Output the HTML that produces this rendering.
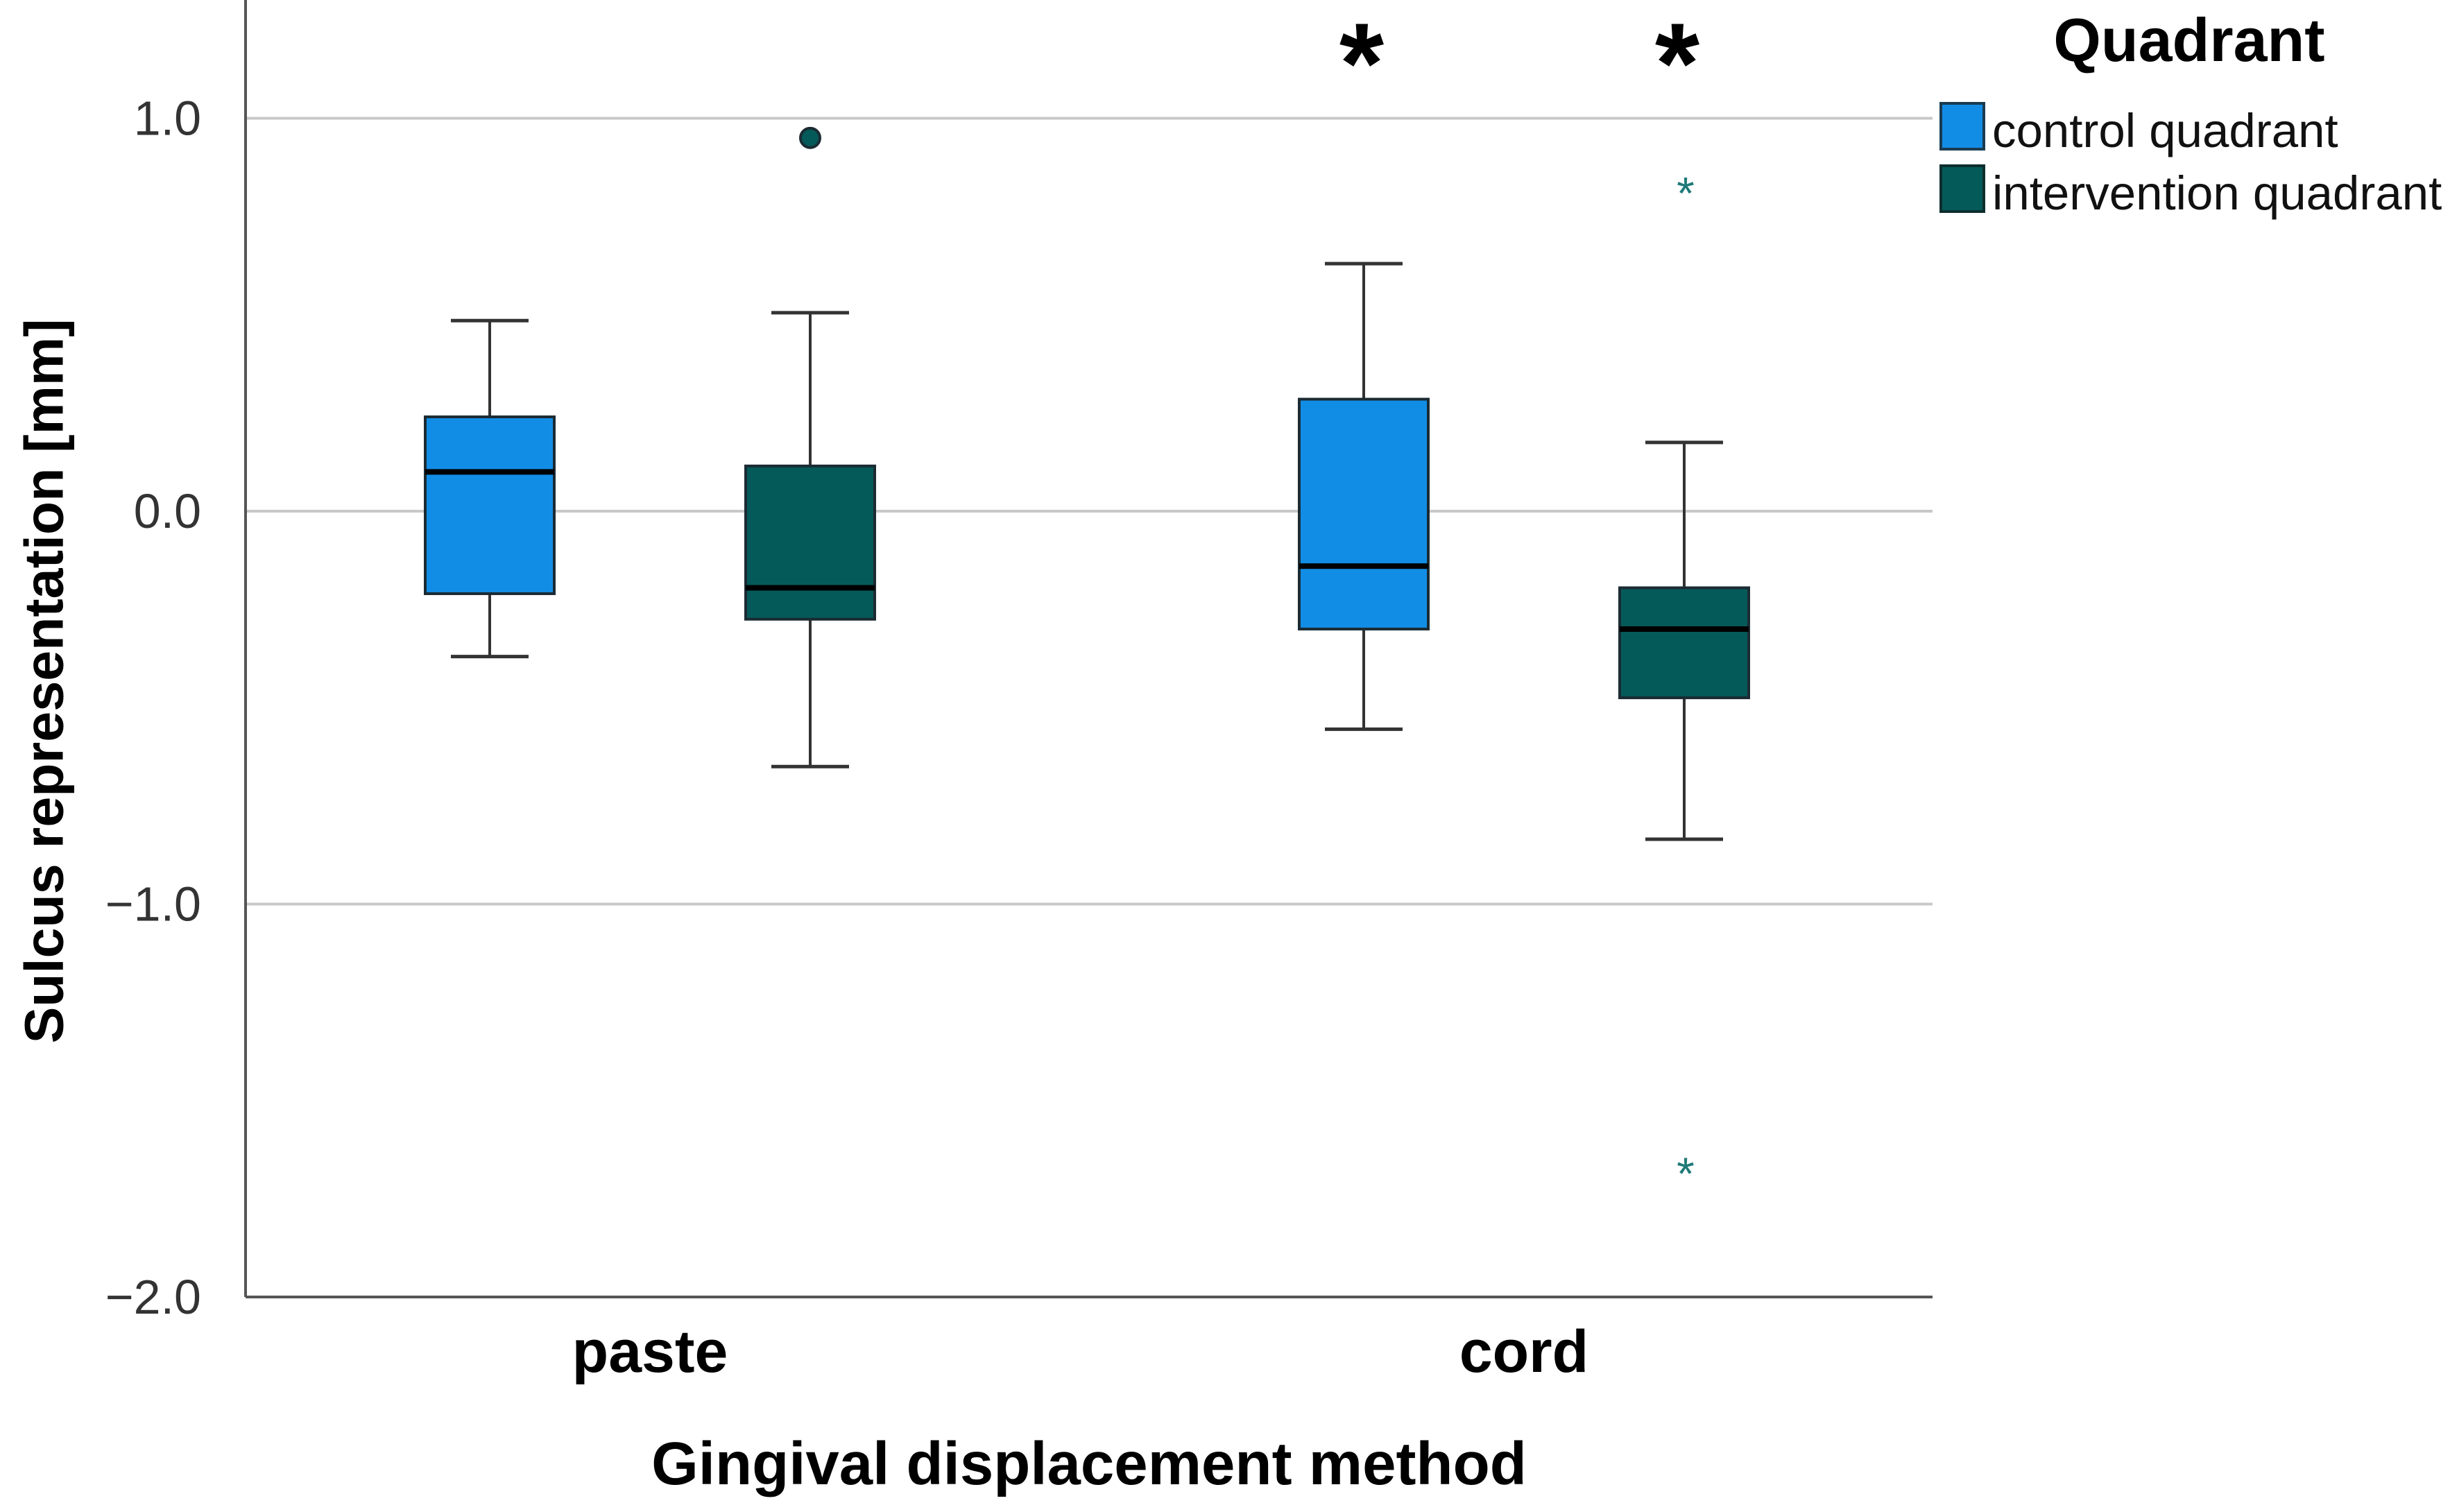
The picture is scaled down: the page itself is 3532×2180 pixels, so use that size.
<!DOCTYPE html>
<html><head><meta charset="utf-8"><style>
html,body{margin:0;padding:0;background:#fff}
svg{display:block}
text{font-family:"Liberation Sans",Arial,sans-serif}
</style></head><body>
<svg id="chart" width="3532" height="2180" viewBox="0 0 3532 2180" xmlns="http://www.w3.org/2000/svg">
<g id="grid"></g>
<g id="yticks"></g>
<line x1="354" y1="0" x2="354" y2="1870" stroke="#555" stroke-width="4"/>
<line x1="354" y1="1870" x2="2786" y2="1870" stroke="#555" stroke-width="4"/>
<g id="boxes"></g>
<g id="xlabels"></g>
<text x="63" y="982" transform="rotate(-90 63 982)" text-anchor="middle" dominant-baseline="central" font-size="79" font-weight="bold" fill="#000">Sulcus representation [mm]</text>
<text x="1570" y="2140" text-anchor="middle" font-size="87" font-weight="bold" fill="#000">Gingival displacement method</text>
<text x="1963" y="148" text-anchor="middle" font-size="165" font-weight="bold" fill="#000">*</text>
<text x="2418" y="148" text-anchor="middle" font-size="165" font-weight="bold" fill="#000">*</text>
<g>
<text x="3156" y="88" text-anchor="middle" font-size="88" font-weight="bold" fill="#000">Quadrant</text>
<g>
<rect x="2798" y="149" width="62" height="66" fill="#128de6" stroke="#1a3b50" stroke-width="4"/>
<text x="2872" y="212" font-size="69" fill="#111">control quadrant</text>
</g>
<g>
<rect x="2798" y="239" width="62" height="66" fill="#045a59" stroke="#0d2e2e" stroke-width="4"/>
<text x="2872" y="302" font-size="69" fill="#111">intervention quadrant</text>
</g>
</g>
</svg>
<script>
const categories = ["paste", "cord"];
const seriesNames = ["control quadrant", "intervention quadrant"];
const seriesColors = ["#128de6", "#045a59"];
const whiskerHigh = [[0.485, 0.505], [0.63, 0.175]];
const q3 = [[0.24, 0.115], [0.285, -0.195]];
const median = [[0.10, -0.195], [-0.14, -0.30]];
const q1 = [[-0.21, -0.275], [-0.30, -0.475]];
const whiskerLow = [[-0.37, -0.65], [-0.555, -0.835]];
const outliers = [[[], [0.95]], [[], []]];
const extremes = [[[], []], [[], [0.825, -1.67]]];
const yTicks = [1.0, 0.0, -1.0, -2.0];
const yTickLabels = ["1.0", "0.0", "\u22121.0", "\u22122.0"];

const NS = "http://www.w3.org/2000/svg";
const plotL = 354, plotR = 2786;
function yScale(v){ return 737 - v * 566.5; }
function catX(c){ return plotL + 583 + c * 1260; }
function xScale(c, s){ return catX(c) + (s === 0 ? -231 : 231); }
function mk(tag, attrs, parent){ const e = document.createElementNS(NS, tag); for (const k in attrs) e.setAttribute(k, attrs[k]); parent.appendChild(e); return e; }

const grid = document.getElementById('grid');
const yt = document.getElementById('yticks');
yTicks.forEach((t, i) => {
  const y = yScale(t);
  if (t > -2) {
    const l = mk('line', {x1: plotL, x2: plotR, y1: y, y2: y, stroke: '#c8c8c8', 'stroke-width': 4}, grid);
    
    
  }
  const tx = mk('text', {x: 290, y: y + 24, 'text-anchor': 'end', 'font-size': 70, fill: '#333'}, yt);
  tx.textContent = yTickLabels[i];
  
  
});

const xl = document.getElementById('xlabels');
categories.forEach((c, ci) => {
  const t = mk('text', {x: catX(ci), y: 1978, 'text-anchor': 'middle', 'font-size': 86, 'font-weight': 'bold', fill: '#000'}, xl);
  t.textContent = c;
  
  
});

const boxes = document.getElementById('boxes');
const bw = 186, cap = 56;
categories.forEach((c, ci) => {
  seriesNames.forEach((s, si) => {
    const cx = xScale(ci, si);
    const g = mk('g', {}, boxes);
    
    
    const wc = '#333';
    const w1 = mk('line', {x1: cx, x2: cx, y1: yScale(whiskerHigh[ci][si]), y2: yScale(q3[ci][si]), stroke: wc, 'stroke-width': 4}, g);
    
    
    const c1 = mk('line', {x1: cx - cap, x2: cx + cap, y1: yScale(whiskerHigh[ci][si]), y2: yScale(whiskerHigh[ci][si]), stroke: wc, 'stroke-width': 5}, g);
    
    
    const w2 = mk('line', {x1: cx, x2: cx, y1: yScale(q1[ci][si]), y2: yScale(whiskerLow[ci][si]), stroke: wc, 'stroke-width': 4}, g);
    
    
    const c2 = mk('line', {x1: cx - cap, x2: cx + cap, y1: yScale(whiskerLow[ci][si]), y2: yScale(whiskerLow[ci][si]), stroke: wc, 'stroke-width': 5}, g);
    
    
    const r = mk('rect', {x: cx - bw/2, y: yScale(q3[ci][si]), width: bw, height: yScale(q1[ci][si]) - yScale(q3[ci][si]), fill: seriesColors[si], stroke: '#1b2b33', 'stroke-width': 4}, g);
    
    
    const m = mk('line', {x1: cx - bw/2, x2: cx + bw/2, y1: yScale(median[ci][si]), y2: yScale(median[ci][si]), stroke: '#000', 'stroke-width': 8}, g);
    
    
    outliers[ci][si].forEach(v => {
      const o = mk('circle', {cx: cx, cy: yScale(v), r: 14, fill: seriesColors[si], stroke: '#1b2b33', 'stroke-width': 4}, g);
      
      
    });
    extremes[ci][si].forEach(v => {
      const e = mk('text', {x: cx + 2, y: yScale(v) + 32, 'text-anchor': 'middle', 'font-size': 66, fill: '#1f7a78'}, g);
      e.textContent = '*';
      
      
    });
  });
});
</script>
</body></html>
